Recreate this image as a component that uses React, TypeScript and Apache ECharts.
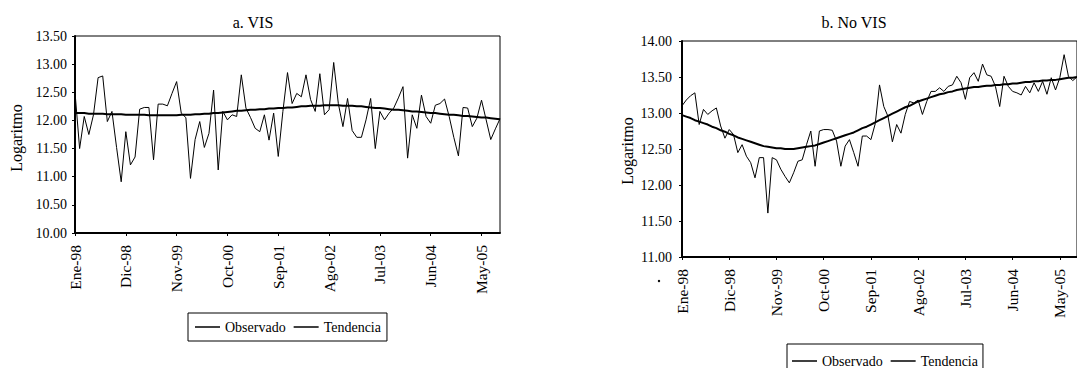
import React, { useEffect, useRef } from "react";
import * as echarts from "echarts";

const MONTHS = ["Ene", "Feb", "Mar", "Abr", "May", "Jun", "Jul", "Ago", "Sep", "Oct", "Nov", "Dic"];
const YEARS = ["98", "99", "00", "01", "02", "03", "04", "05"];
const N_POINTS = 93; // Ene-98 .. Sep-05

const categories: string[] = [];
for (const y of YEARS) for (const m of MONTHS) if (categories.length < N_POINTS) categories.push(`${m}-${y}`);

// a. VIS
const visObservado = [
  12.50, 11.50, 12.07, 11.75, 12.10, 12.76, 12.79, 11.98, 12.16, 11.52,
  10.91, 11.80, 11.21, 11.35, 12.20, 12.23, 12.23, 11.30, 12.29, 12.29,
  12.26, 12.48, 12.69, 12.13, 12.05, 10.97, 11.66, 11.98, 11.52, 11.77,
  12.54, 11.12, 12.16, 12.01, 12.10, 12.07, 12.81, 12.22, 12.05, 11.86,
  11.80, 12.10, 11.65, 12.13, 11.36, 12.16, 12.85, 12.30, 12.48, 12.42,
  12.81, 12.37, 12.16, 12.83, 12.10, 12.19, 13.03, 12.30, 11.89, 12.39,
  11.82, 11.70, 11.70, 12.01, 12.39, 11.50, 12.16, 12.01, 12.13, 12.22,
  12.40, 12.60, 11.33, 12.10, 11.86, 12.45, 12.07, 11.95, 12.27, 12.30,
  12.38, 12.07, 11.70, 11.37, 12.23, 12.22, 11.89, 12.04, 12.36, 12.01,
  11.66, 11.85, 12.03,
];
const visTendencia = [
  12.13, 12.13, 12.13, 12.12, 12.12, 12.12, 12.12, 12.11, 12.11, 12.11,
  12.11, 12.10, 12.10, 12.10, 12.10, 12.10, 12.09, 12.09, 12.09, 12.09,
  12.09, 12.09, 12.09, 12.10, 12.10, 12.10, 12.11, 12.11, 12.12, 12.12,
  12.13, 12.13, 12.14, 12.15, 12.16, 12.17, 12.17, 12.18, 12.19, 12.19,
  12.20, 12.20, 12.21, 12.21, 12.22, 12.22, 12.23, 12.23, 12.24, 12.25,
  12.25, 12.26, 12.26, 12.26, 12.27, 12.27, 12.27, 12.27, 12.26, 12.26,
  12.26, 12.25, 12.25, 12.24, 12.23, 12.22, 12.22, 12.21, 12.20, 12.19,
  12.19, 12.18, 12.17, 12.16, 12.16, 12.15, 12.14, 12.13, 12.13, 12.12,
  12.11, 12.10, 12.10, 12.09, 12.08, 12.08, 12.07, 12.06, 12.05, 12.05,
  12.04, 12.03, 12.02,
];

// b. No VIS
const noVisObservado = [
  13.10, 13.18, 13.24, 13.28, 12.84, 13.05, 12.98, 13.03, 13.07, 12.82,
  12.65, 12.77, 12.70, 12.45, 12.56, 12.40, 12.31, 12.10, 12.38, 12.38,
  11.61, 12.38, 12.35, 12.22, 12.12, 12.03, 12.17, 12.33, 12.35, 12.56,
  12.75, 12.26, 12.75, 12.77, 12.77, 12.76, 12.61, 12.26, 12.54, 12.63,
  12.45, 12.26, 12.68, 12.68, 12.63, 12.85, 13.39, 13.09, 12.95, 12.60,
  12.84, 12.72, 12.98, 13.16, 13.14, 13.18, 12.98, 13.16, 13.30, 13.30,
  13.35, 13.30, 13.37, 13.39, 13.51, 13.42, 13.19, 13.49, 13.56, 13.44,
  13.68, 13.53, 13.51, 13.37, 13.09, 13.51, 13.37, 13.30, 13.28, 13.25,
  13.37, 13.28, 13.42, 13.30, 13.44, 13.26, 13.49, 13.32, 13.49, 13.81,
  13.51, 13.45, 13.50,
];
const noVisTendencia = [
  12.97, 12.95, 12.93, 12.90, 12.88, 12.86, 12.84, 12.81, 12.79, 12.76,
  12.74, 12.71, 12.69, 12.66, 12.64, 12.62, 12.60, 12.58, 12.56, 12.54,
  12.53, 12.52, 12.51, 12.51, 12.50, 12.50, 12.50, 12.51, 12.52, 12.53,
  12.54, 12.55, 12.57, 12.59, 12.61, 12.63, 12.65, 12.67, 12.69, 12.71,
  12.73, 12.76, 12.79, 12.81, 12.84, 12.87, 12.90, 12.93, 12.96, 12.99,
  13.02, 13.05, 13.08, 13.10, 13.13, 13.16, 13.18, 13.20, 13.22, 13.24,
  13.26, 13.27, 13.29, 13.30, 13.32, 13.33, 13.34, 13.35, 13.36, 13.36,
  13.37, 13.38, 13.38, 13.39, 13.39, 13.40, 13.40, 13.41, 13.41, 13.42,
  13.43, 13.43, 13.44, 13.44, 13.45, 13.45, 13.46, 13.46, 13.47, 13.48,
  13.49, 13.49, 13.50,
];

const TITLES = ["a. VIS", "b. No VIS"];
const Y_NAME = "Logaritmo";
const LEGEND_NAMES = ["Observado", "Tendencia"];

const FONT = "Liberation Serif";

function xAxisFor(gridIndex: number) {
  return {
    type: "category",
    gridIndex,
    data: categories,
    boundaryGap: false,
    axisLine: { show: true, lineStyle: { color: "#000", width: 2 } },
    axisTick: { show: true, interval: 10, length: 3, lineStyle: { color: "#000", width: 1 } },
    axisLabel: {
      interval: 10,
      rotate: 90,
      margin: 12,
      fontSize: 15.5,
      color: "#000",
      fontFamily: FONT,
    },
    splitLine: { show: false },
  };
}

function yAxisFor(gridIndex: number, min: number, max: number, margin: number, fontSize: number) {
  return {
    type: "value",
    gridIndex,
    min,
    max,
    interval: 0.5,
    axisLine: { show: true, lineStyle: { color: "#000", width: 2 } },
    axisTick: { show: true, length: 3, lineStyle: { color: "#000", width: 1 } },
    axisLabel: {
      formatter: (v: number) => v.toFixed(2),
      margin,
      fontSize,
      color: "#000",
      fontFamily: FONT,
    },
    splitLine: { show: false },
  };
}

function legendFor(left: number, top: number, padding: number[], itemGap: number) {
  return {
    left,
    top,
    orient: "horizontal",
    data: LEGEND_NAMES,
    icon: "rect",
    itemWidth: 25,
    itemHeight: 1.5,
    itemGap,
    padding,
    borderColor: "#000",
    borderWidth: 1,
    selectedMode: false,
    textStyle: { fontFamily: FONT, fontSize: 14, color: "#000" },
  };
}

export default function App() {
  const ref = useRef<HTMLDivElement>(null);

  useEffect(() => {
    if (!ref.current) return;
    const chart = echarts.init(ref.current, null, { renderer: "svg" });
    const lineSeries = (name: string, idx: number, data: number[], width: number) => ({
      name,
      type: "line",
      xAxisIndex: idx,
      yAxisIndex: idx,
      data,
      symbol: "none",
      showSymbol: false,
      lineStyle: { color: "#000", width },
      itemStyle: { color: "#000" },
      emphasis: { disabled: true },
    });

    chart.setOption({
      animation: false,
      backgroundColor: "#fff",
      textStyle: { fontFamily: FONT },
      grid: [
        { left: 75, top: 36, width: 425, height: 197, show: true, borderColor: "#000", borderWidth: 1, containLabel: false },
        { left: 682, top: 41, width: 401, height: 216, show: true, borderColor: "#000", borderWidth: 1, containLabel: false },
      ],
      xAxis: [xAxisFor(0), xAxisFor(1)],
      yAxis: [yAxisFor(0, 10, 13.5, 8, 14), yAxisFor(1, 11, 14, 10, 14)],
      legend: [
        legendFor(188, 313, [7, 6, 7, 7], 8),
        legendFor(787, 344, [10, 5, 10, 5], 8),
      ],
      series: [
        lineSeries(LEGEND_NAMES[0], 0, visObservado, 1),
        lineSeries(LEGEND_NAMES[1], 0, visTendencia, 2),
        lineSeries(LEGEND_NAMES[0], 1, noVisObservado, 1),
        lineSeries(LEGEND_NAMES[1], 1, noVisTendencia, 2),
      ],
      graphic: [
        {
          type: "text",
          x: 253,
          y: 22,
          style: { text: TITLES[0], align: "center", verticalAlign: "middle", font: `16px '${FONT}'`, fill: "#000" },
        },
        {
          type: "text",
          x: 854,
          y: 22,
          style: { text: TITLES[1], align: "center", verticalAlign: "middle", font: `16px '${FONT}'`, fill: "#000" },
        },
        {
          type: "text",
          x: 16,
          y: 138,
          rotation: Math.PI / 2,
          style: { text: Y_NAME, align: "center", verticalAlign: "middle", font: `16px '${FONT}'`, fill: "#000" },
        },
        {
          type: "text",
          x: 627,
          y: 151,
          rotation: Math.PI / 2,
          style: { text: Y_NAME, align: "center", verticalAlign: "middle", font: `16px '${FONT}'`, fill: "#000" },
        },
        {
          type: "circle",
          shape: { cx: 659, cy: 281, r: 1.2 },
          style: { fill: "#000" },
        },
      ],
    });
    return () => chart.dispose();
  }, []);

  return (
    <div
      ref={ref}
      style={{ position: "absolute", left: 0, top: 0, width: 1077, height: 368, background: "#fff" }}
    />
  );
}
